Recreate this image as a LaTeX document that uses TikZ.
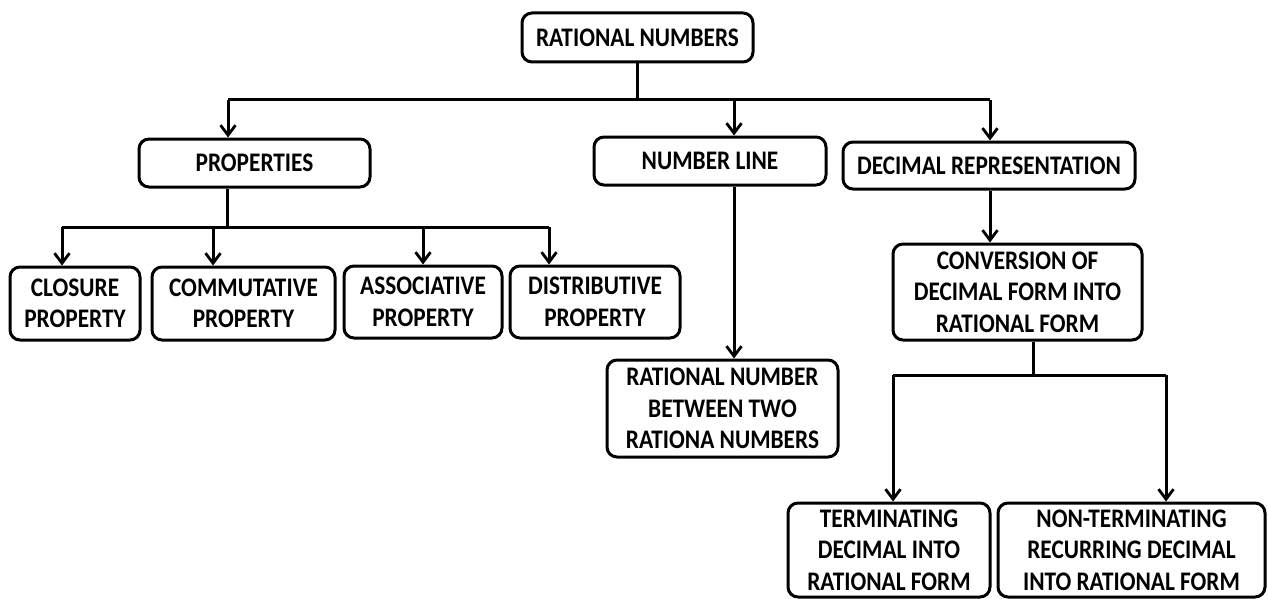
\documentclass[tikz,border=0pt]{standalone}
\usepackage{fontspec}
\setmainfont{Carlito}[FakeStretch=0.87]
\usetikzlibrary{arrows.meta}

\begin{document}
\begin{tikzpicture}[
    x=0.5pt, y=-0.5pt,
    ->, >={Straight Barb[length=5pt, width=7.5pt, line width=1.4pt]}, line width=1.5pt,
    tnode/.style={rectangle, rounded corners=5pt, draw=black, fill=white, align=center,
                  inner sep=0pt, font=\fontsize{13.4}{15.8}\selectfont\bfseries},
    wh/.style 2 args={minimum width=#1*0.5pt, minimum height=#2*0.5pt}
]
\useasboundingbox (0,0) rectangle (1268,599);

% boxes
\node [tnode, wh={231}{49}] (root)    at (637.5,37.5) {RATIONAL NUMBERS};
\node [tnode, wh={231}{48}] (props)   at (254.5,163)  {PROPERTIES};
\node [tnode, wh={232}{48}] (numline) at (710,161)    {NUMBER LINE};
\node [tnode, wh={292}{47}] (decrep)  at (989,165.5)  {DECIMAL REPRESENTATION};
\node [tnode, wh={130}{73}] (closure) at (75,303.5)   {CLOSURE\\PROPERTY};
\node [tnode, wh={183}{73}] (commut)  at (243.5,303.5) {COMMUTATIVE\\PROPERTY};
\node [tnode, wh={158}{72}] (assoc)   at (423,302)    {ASSOCIATIVE\\PROPERTY};
\node [tnode, wh={170}{72}] (distrib) at (595,302)    {DISTRIBUTIVE\\PROPERTY};
\node [tnode, wh={231}{97}] (between) at (722.5,408.5) {RATIONAL NUMBER\\BETWEEN TWO\\RATIONA NUMBERS};
\node [tnode, wh={249}{96}] (conv)    at (1017.5,292) {CONVERSION OF\\DECIMAL FORM INTO\\RATIONAL FORM};
\node [tnode, wh={202}{94}] (term)    at (889,550)    {TERMINATING\\DECIMAL INTO\\RATIONAL FORM};
\node [tnode, wh={267}{94}] (nonterm) at (1131.5,550) {NON-TERMINATING\\RECURRING DECIMAL\\INTO RATIONAL FORM};

% top level
\coordinate (bp) at (228,100);
\coordinate (bn) at (734,100);
\coordinate (bd) at (990,100);
\draw [-] (root) -- (root |- bn);
\draw [-] (bp) -- (bd);
\draw (bp) -- (bp |- props.north);
\draw (bn) -- (bn |- numline.north);
\draw (bd) -- (bd |- decrep.north);

% properties
\coordinate (pj) at (227,227);
\coordinate (c1) at (62,227);
\coordinate (c2) at (213,227);
\coordinate (c3) at (423,227);
\coordinate (c4) at (549,227);
\draw [-] (pj |- props.south) -- (pj);
\draw [-] (c1) -- (c4);
\draw (c1) -- (c1 |- closure.north);
\draw (c2) -- (c2 |- commut.north);
\draw (c3) -- (c3 |- assoc.north);
\draw (c4) -- (c4 |- distrib.north);

% number line
\draw (bn |- numline.south) -- (bn |- between.north);

% decimal representation
\draw (bd |- decrep.south) -- (bd |- conv.north);
\coordinate (cj) at (1033,375);
\coordinate (t1) at (893,375);
\coordinate (t2) at (1166,375);
\draw [-] (cj |- conv.south) -- (cj);
\draw [-] (t1) -- (t2);
\draw (t1) -- (t1 |- term.north);
\draw (t2) -- (t2 |- nonterm.north);

\end{tikzpicture}
\end{document}
